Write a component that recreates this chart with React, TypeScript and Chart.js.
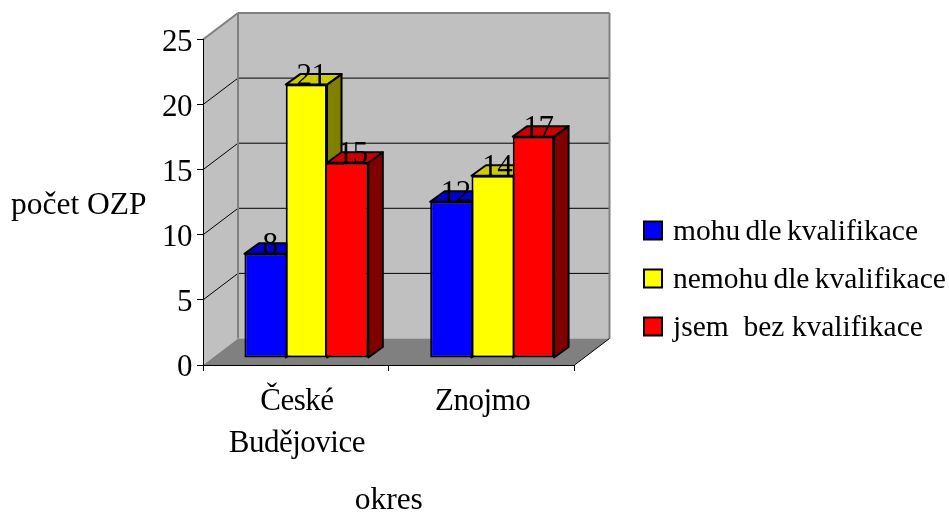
import React, { useEffect, useRef } from "react";
import { Chart, registerables } from "chart.js";

Chart.register(...registerables);

const categories = [["České", "Budějovice"], "Znojmo"];
const seriesNames = ["mohu dle kvalifikace", "nemohu dle kvalifikace", "jsem  bez kvalifikace"];
const mohu = [8, 12];
const nemohu = [21, 14];
const bez = [15, 17];
const frontColors = ["#0000ff", "#ffff00", "#ff0000"];
const topColors = ["#0000cc", "#cccc00", "#cc0000"];
const sideColors = ["#000080", "#808000", "#800000"];
const yTitle = "počet OZP";
const xTitle = "okres";

const FONT = '"Liberation Serif"';
const WALL_DX = 35;
const WALL_DY = -26.5;
const BAR_DX = 10.5;
const BAR_DY = -7;
const DEPTH_DX = 14.5;
const DEPTH_DY = -10.5;

function poly(ctx: CanvasRenderingContext2D, pts: number[][], fill?: string, stroke?: string, lw = 1) {
  ctx.beginPath();
  pts.forEach((p, i) => (i ? ctx.lineTo(p[0], p[1]) : ctx.moveTo(p[0], p[1])));
  ctx.closePath();
  if (fill) {
    ctx.fillStyle = fill;
    ctx.fill();
  }
  if (stroke) {
    ctx.strokeStyle = stroke;
    ctx.lineWidth = lw;
    ctx.stroke();
  }
}

function line(ctx: CanvasRenderingContext2D, x1: number, y1: number, x2: number, y2: number, color: string, lw: number) {
  ctx.beginPath();
  ctx.moveTo(x1, y1);
  ctx.lineTo(x2, y2);
  ctx.strokeStyle = color;
  ctx.lineWidth = lw;
  ctx.stroke();
}

const box3d = {
  id: "box3d",
  beforeDraw(chart: any) {
    const { ctx } = chart;
    const xs = chart.scales.x;
    const ys = chart.scales.y;
    const l = xs.left;
    const r = xs.right;
    const y0 = ys.getPixelForValue(0);
    const yT = ys.getPixelForValue(25);
    const bl = l + WALL_DX;
    const br = r + WALL_DX;
    const by0 = y0 + WALL_DY;
    const byT = yT + WALL_DY;
    ctx.save();
    poly(ctx, [[l, y0], [bl, by0], [bl, byT], [l, yT]], "#c0c0c0");
    poly(ctx, [[bl, by0], [br, by0], [br, byT], [bl, byT]], "#c0c0c0");
    poly(ctx, [[l, y0], [r, y0], [br, by0], [bl, by0]], "#808080");
    ys.ticks.forEach((t: any) => {
      if (t.value === 0 || t.value === 25) return;
      const y = ys.getPixelForValue(t.value);
      line(ctx, l, y, bl, y + WALL_DY, "#000000", 1);
      line(ctx, bl, y + WALL_DY, br, y + WALL_DY, "#000000", 1);
    });
    line(ctx, l, yT, bl, byT, "#808080", 2);
    line(ctx, bl, byT, br, byT, "#808080", 2);
    line(ctx, bl, byT, bl, by0, "#808080", 2);
    line(ctx, br, byT, br, by0, "#808080", 2);
    line(ctx, r, y0, br, by0, "#000000", 1);
    ctx.restore();
    (ctx as any).letterSpacing = "-0.5px";
  },
  beforeDatasetsDraw(chart: any) {
    const { ctx } = chart;
    ctx.save();
    chart.data.datasets.forEach((_: any, di: number) => {
      chart.getDatasetMeta(di).data.forEach((b: any) => {
        const x1 = b.x - b.width / 2 + BAR_DX;
        const x2 = b.x + b.width / 2 + BAR_DX;
        const yt = b.y + BAR_DY;
        const yb = b.base + BAR_DY;
        ctx.lineJoin = "round";
        poly(ctx, [[x2, yt], [x2 + DEPTH_DX, yt + DEPTH_DY], [x2 + DEPTH_DX, yb + DEPTH_DY], [x2, yb]], sideColors[di], "#000000", 2);
        poly(ctx, [[x1, yt], [x1 + DEPTH_DX, yt + DEPTH_DY], [x2 + DEPTH_DX, yt + DEPTH_DY], [x2, yt]], topColors[di], "#000000", 2);
      });
    });
    ctx.restore();
  },
  beforeDatasetDraw(chart: any) {
    chart.ctx.save();
    chart.ctx.translate(BAR_DX, BAR_DY);
  },
  afterDatasetDraw(chart: any) {
    chart.ctx.restore();
  },
  afterDatasetsDraw(chart: any) {
    const { ctx } = chart;
    ctx.save();
    ctx.font = `31px ${FONT}`;
    ctx.fillStyle = "#000000";
    ctx.textAlign = "center";
    ctx.textBaseline = "alphabetic";
    chart.data.datasets.forEach((ds: any, di: number) => {
      chart.getDatasetMeta(di).data.forEach((b: any, i: number) => {
        ctx.fillText(String(ds.data[i]), b.x + BAR_DX + 5, b.y + BAR_DY + 0.5);
      });
    });
    ctx.restore();
  },
  afterDraw(chart: any) {
    const { ctx } = chart;
    ctx.save();
    (ctx as any).letterSpacing = "0px";
    ctx.fillStyle = "#000000";
    ctx.textBaseline = "alphabetic";
    ctx.font = `31.5px ${FONT}`;
    ctx.textAlign = "left";
    ctx.fillText(yTitle, 11, 214);
    ctx.textAlign = "center";
    ctx.fillText(xTitle, (chart.scales.x.left + chart.scales.x.right) / 2, 508.5);
    ctx.textAlign = "left";
    ctx.font = `29.5px ${FONT}`;
    const rows = [230.5, 278.5, 326.5];
    const gaps = ["-2px", "-2px", "0px"];
    chart.data.datasets.forEach((ds: any, di: number) => {
      const y = rows[di];
      (ctx as any).wordSpacing = gaps[di];
      ctx.fillStyle = frontColors[di];
      ctx.strokeStyle = "#000000";
      ctx.lineWidth = 2;
      ctx.fillRect(644, y - 9, 18, 18);
      ctx.strokeRect(644, y - 9, 18, 18);
      ctx.fillStyle = "#000000";
      ctx.fillText(ds.label, 673, y + 9);
    });
    ctx.restore();
  },
};

// A shared edge between two neighbouring bars is only drawn once, by the taller one.
const sharedEdge = (c: any) => {
  const sets = c.chart.data.datasets;
  const di = c.datasetIndex;
  const v = sets[di].data[c.dataIndex];
  if (di < sets.length - 1 && sets[di + 1].data[c.dataIndex] >= v) return "right";
  if (di > 0 && sets[di - 1].data[c.dataIndex] > v) return "left";
  return false;
};

export default function App() {
  const ref = useRef<HTMLCanvasElement | null>(null);
  useEffect(() => {
    document.body.style.margin = "0";
    const barStyle = { categoryPercentage: 0.667, barPercentage: 1, borderColor: "#000000", borderWidth: 2, borderSkipped: sharedEdge, clip: false };
    const chart = new Chart(ref.current as HTMLCanvasElement, {
      type: "bar",
      data: {
        labels: categories as any,
        datasets: [
          { label: seriesNames[0], data: mohu, backgroundColor: frontColors[0], ...barStyle },
          { label: seriesNames[1], data: nemohu, backgroundColor: frontColors[1], ...barStyle },
          { label: seriesNames[2], data: bez, backgroundColor: frontColors[2], ...barStyle },
        ] as any,
      },
      plugins: [box3d as any],
      options: {
        animation: false,
        responsive: false,
        layout: { padding: { top: 39.5, left: 0, right: 374.5, bottom: 0 } },
        plugins: { legend: { display: false }, tooltip: { enabled: false }, title: { display: false } },
        scales: {
          x: {
            afterFit: (s: any) => { s.height = 147; },
            border: { color: "#000000", width: 1 },
            grid: { drawOnChartArea: false, drawTicks: true, tickLength: 6, color: "#000000" },
            ticks: { color: "#000000", maxRotation: 0, minRotation: 0, autoSkip: false, padding: 10, labelOffset: 1, font: { family: FONT, size: 31, lineHeight: 1.345 } },
          },
          y: {
            min: 0,
            max: 25,
            afterFit: (s: any) => { s.width = 203; },
            border: { color: "#000000", width: 1 },
            grid: { drawOnChartArea: false, drawTicks: true, tickLength: 6, color: "#000000" },
            ticks: { stepSize: 5, color: "#000000", padding: 5, labelOffset: 3, font: { family: FONT, size: 31 } },
          },
        },
      } as any,
    });
    return () => chart.destroy();
  }, []);
  return <canvas ref={ref} width={949} height={512} style={{ display: "block", width: 949, height: 512 }} />;
}
